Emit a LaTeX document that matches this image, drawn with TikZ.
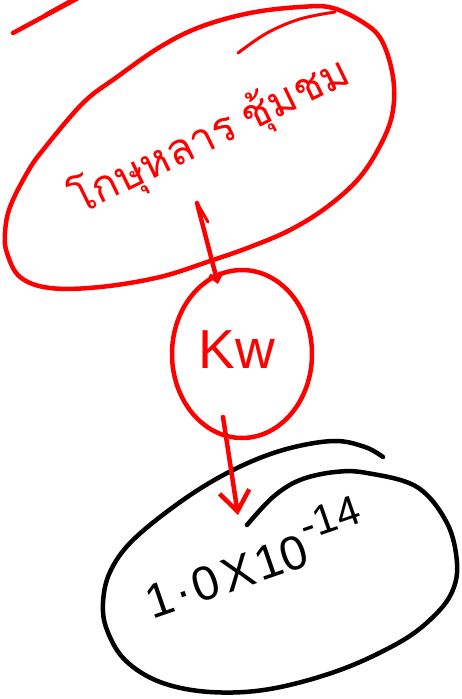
\documentclass[tikz,border=0pt]{standalone}
\usepackage{fontspec}
\setmainfont{Liberation Sans}
\newfontfamily\thaifont[Script=Thai]{Loma}
\usetikzlibrary{arrows.meta,shapes.geometric}
\begin{document}
\begin{tikzpicture}[x=1pt,y=-1pt,line cap=round,line join=round,
  redline/.style={draw=red,line width=4.5pt},
  blackline/.style={draw=black,line width=4.5pt},
  redtip/.style={-{Straight Barb[length=20pt,width=30pt]}},
  smalltip/.style={-{Straight Barb[length=7pt,width=12pt]}},
  thaitext/.style={text=red,font=\thaifont\fontsize{43}{43}\selectfont,rotate=26,inner sep=0pt},
  kwtext/.style={text=red,font=\fontsize{55}{55}\selectfont,inner sep=0pt},
  numtext/.style={text=black,font=\fontsize{48}{48}\selectfont,rotate=19,inner sep=0pt}]
\useasboundingbox (0,0) rectangle (462,699);
% stray stroke top-left
\draw[redline] (13,33) -- (80,-3);
\draw[redline,line width=2pt] (45,14) -- (72,-1);
% top red ellipse
\draw[redline] plot[smooth cycle,tension=0.6] coordinates {(43,150) (83,103) (117,77) (160,47) (200,27) (250,13) (300,7) (333,8) (367,25) (383,43) (393,77) (393,110) (383,140) (360,177) (327,207) (290,230) (250,247) (213,260) (160,277) (100,287) (50,288) (20,277) (7,253) (5,233) (10,207) (27,173)};
\draw[redline,line width=3pt] plot[smooth,tension=0.6] coordinates {(238,53) (267,33) (300,19) (335,12)};
\node[thaitext] (thai) at (210,136) {โกษุหลาร\kern10pt ชุ้มชม};
% Kw circle
\node[ellipse,redline,minimum width=140pt,minimum height=168pt,inner sep=0pt] (kwc) at (242,354) {};
\node[kwtext] (kw) at (237,350) {Kw};
% bottom black ellipse
\draw[blackline] plot[smooth,tension=0.6] coordinates {(247,525) (273,497) (300,480) (335,472) (367,473) (417,487) (447,523) (457,563) (452,592) (433,617) (400,642) (340,670) (270,689) (210,692) (160,682) (125,660) (107,630) (103,603) (110,572) (133,540) (183,500) (233,470) (283,450) (333,441) (365,447) (383,457)};
\node[numtext] (num) at (253,557) {1\kern3pt·\kern3pt0\kern5pt X\kern3pt 10\kern2pt\raisebox{24pt}{\fontsize{42}{42}\selectfont -14}};
% arrows
\coordinate (a1s) at (197,203);
\coordinate (a1b) at (208,222);
\coordinate (a1e) at (218,284);
\draw[redline,smalltip] (a1s) -- (a1e);
\draw[redline,line width=3pt] (a1s) -- (a1b);
\coordinate (a2s) at (223,417);
\coordinate (a2e) at (238,515);
\draw[redline,redtip] (a2s) -- (a2e);
\end{tikzpicture}
\end{document}
